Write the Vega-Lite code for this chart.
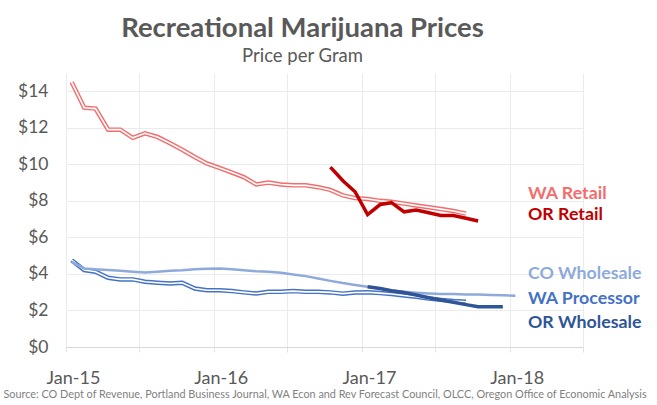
{
  "$schema": "https://vega.github.io/schema/vega-lite/v6.json",
  "width": 517,
  "height": 274,
  "autosize": "none",
  "padding": {"left": 66, "top": 73, "right": 74, "bottom": 58},
  "background": "white",
  "config": {"view": {"stroke": null}, "font": "Lato"},
  "title": {
    "text": "Recreational Marijuana Prices",
    "subtitle": "Price per Gram",
    "anchor": "middle",
    "frame": "group",
    "dx": -22,
    "font": "Lato",
    "fontSize": 27.5,
    "fontWeight": "bold",
    "color": "#595959",
    "subtitleFont": "Lato",
    "subtitleFontSize": 18.5,
    "subtitleColor": "#595959",
    "subtitlePadding": 4,
    "offset": 8
  },
  "data": {
    "values": [
      {"series": "WA Retail", "date": "2015-01-15T00:00:00", "price": 14.5},
      {"series": "WA Retail", "date": "2015-02-15T00:00:00", "price": 13.1},
      {"series": "WA Retail", "date": "2015-03-15T00:00:00", "price": 13.05},
      {"series": "WA Retail", "date": "2015-04-15T00:00:00", "price": 11.9},
      {"series": "WA Retail", "date": "2015-05-15T00:00:00", "price": 11.9},
      {"series": "WA Retail", "date": "2015-06-15T00:00:00", "price": 11.45},
      {"series": "WA Retail", "date": "2015-07-15T00:00:00", "price": 11.7},
      {"series": "WA Retail", "date": "2015-08-15T00:00:00", "price": 11.5},
      {"series": "WA Retail", "date": "2015-09-15T00:00:00", "price": 11.15},
      {"series": "WA Retail", "date": "2015-10-15T00:00:00", "price": 10.8},
      {"series": "WA Retail", "date": "2015-11-15T00:00:00", "price": 10.4},
      {"series": "WA Retail", "date": "2015-12-15T00:00:00", "price": 10.05},
      {"series": "WA Retail", "date": "2016-01-15T00:00:00", "price": 9.8},
      {"series": "WA Retail", "date": "2016-02-15T00:00:00", "price": 9.55},
      {"series": "WA Retail", "date": "2016-03-15T00:00:00", "price": 9.3},
      {"series": "WA Retail", "date": "2016-04-15T00:00:00", "price": 8.9},
      {"series": "WA Retail", "date": "2016-05-15T00:00:00", "price": 9.0},
      {"series": "WA Retail", "date": "2016-06-15T00:00:00", "price": 8.9},
      {"series": "WA Retail", "date": "2016-07-15T00:00:00", "price": 8.85},
      {"series": "WA Retail", "date": "2016-08-15T00:00:00", "price": 8.85},
      {"series": "WA Retail", "date": "2016-09-15T00:00:00", "price": 8.75},
      {"series": "WA Retail", "date": "2016-10-15T00:00:00", "price": 8.6},
      {"series": "WA Retail", "date": "2016-11-15T00:00:00", "price": 8.3},
      {"series": "WA Retail", "date": "2016-12-15T00:00:00", "price": 8.15},
      {"series": "WA Retail", "date": "2017-01-15T00:00:00", "price": 8.1},
      {"series": "WA Retail", "date": "2017-02-15T00:00:00", "price": 8.0},
      {"series": "WA Retail", "date": "2017-03-15T00:00:00", "price": 7.95},
      {"series": "WA Retail", "date": "2017-04-15T00:00:00", "price": 7.85},
      {"series": "WA Retail", "date": "2017-05-15T00:00:00", "price": 7.75},
      {"series": "WA Retail", "date": "2017-06-15T00:00:00", "price": 7.65},
      {"series": "WA Retail", "date": "2017-07-15T00:00:00", "price": 7.55},
      {"series": "WA Retail", "date": "2017-08-15T00:00:00", "price": 7.45},
      {"series": "WA Retail", "date": "2017-09-15T00:00:00", "price": 7.3},

      {"series": "OR Retail", "date": "2016-10-15T00:00:00", "price": 9.85},
      {"series": "OR Retail", "date": "2016-11-15T00:00:00", "price": 9.1},
      {"series": "OR Retail", "date": "2016-12-15T00:00:00", "price": 8.5},
      {"series": "OR Retail", "date": "2017-01-15T00:00:00", "price": 7.25},
      {"series": "OR Retail", "date": "2017-02-15T00:00:00", "price": 7.8},
      {"series": "OR Retail", "date": "2017-03-15T00:00:00", "price": 7.9},
      {"series": "OR Retail", "date": "2017-04-15T00:00:00", "price": 7.4},
      {"series": "OR Retail", "date": "2017-05-15T00:00:00", "price": 7.5},
      {"series": "OR Retail", "date": "2017-06-15T00:00:00", "price": 7.35},
      {"series": "OR Retail", "date": "2017-07-15T00:00:00", "price": 7.2},
      {"series": "OR Retail", "date": "2017-08-15T00:00:00", "price": 7.2},
      {"series": "OR Retail", "date": "2017-09-15T00:00:00", "price": 7.05},
      {"series": "OR Retail", "date": "2017-10-15T00:00:00", "price": 6.9},

      {"series": "CO Wholesale", "date": "2015-01-15T00:00:00", "price": 4.66},
      {"series": "CO Wholesale", "date": "2015-02-15T00:00:00", "price": 4.3},
      {"series": "CO Wholesale", "date": "2015-03-15T00:00:00", "price": 4.25},
      {"series": "CO Wholesale", "date": "2015-04-15T00:00:00", "price": 4.21},
      {"series": "CO Wholesale", "date": "2015-05-15T00:00:00", "price": 4.17},
      {"series": "CO Wholesale", "date": "2015-06-15T00:00:00", "price": 4.12},
      {"series": "CO Wholesale", "date": "2015-07-15T00:00:00", "price": 4.08},
      {"series": "CO Wholesale", "date": "2015-08-15T00:00:00", "price": 4.12},
      {"series": "CO Wholesale", "date": "2015-09-15T00:00:00", "price": 4.17},
      {"series": "CO Wholesale", "date": "2015-10-15T00:00:00", "price": 4.2},
      {"series": "CO Wholesale", "date": "2015-11-15T00:00:00", "price": 4.25},
      {"series": "CO Wholesale", "date": "2015-12-15T00:00:00", "price": 4.28},
      {"series": "CO Wholesale", "date": "2016-01-15T00:00:00", "price": 4.3},
      {"series": "CO Wholesale", "date": "2016-02-15T00:00:00", "price": 4.26},
      {"series": "CO Wholesale", "date": "2016-03-15T00:00:00", "price": 4.2},
      {"series": "CO Wholesale", "date": "2016-04-15T00:00:00", "price": 4.15},
      {"series": "CO Wholesale", "date": "2016-05-15T00:00:00", "price": 4.12},
      {"series": "CO Wholesale", "date": "2016-06-15T00:00:00", "price": 4.06},
      {"series": "CO Wholesale", "date": "2016-07-15T00:00:00", "price": 3.97},
      {"series": "CO Wholesale", "date": "2016-08-15T00:00:00", "price": 3.88},
      {"series": "CO Wholesale", "date": "2016-09-15T00:00:00", "price": 3.75},
      {"series": "CO Wholesale", "date": "2016-10-15T00:00:00", "price": 3.62},
      {"series": "CO Wholesale", "date": "2016-11-15T00:00:00", "price": 3.5},
      {"series": "CO Wholesale", "date": "2016-12-15T00:00:00", "price": 3.4},
      {"series": "CO Wholesale", "date": "2017-01-15T00:00:00", "price": 3.3},
      {"series": "CO Wholesale", "date": "2017-02-15T00:00:00", "price": 3.2},
      {"series": "CO Wholesale", "date": "2017-03-15T00:00:00", "price": 3.1},
      {"series": "CO Wholesale", "date": "2017-04-15T00:00:00", "price": 3.02},
      {"series": "CO Wholesale", "date": "2017-05-15T00:00:00", "price": 2.97},
      {"series": "CO Wholesale", "date": "2017-06-15T00:00:00", "price": 2.93},
      {"series": "CO Wholesale", "date": "2017-07-15T00:00:00", "price": 2.9},
      {"series": "CO Wholesale", "date": "2017-08-15T00:00:00", "price": 2.9},
      {"series": "CO Wholesale", "date": "2017-09-15T00:00:00", "price": 2.88},
      {"series": "CO Wholesale", "date": "2017-10-15T00:00:00", "price": 2.87},
      {"series": "CO Wholesale", "date": "2017-11-15T00:00:00", "price": 2.85},
      {"series": "CO Wholesale", "date": "2017-12-15T00:00:00", "price": 2.83},
      {"series": "CO Wholesale", "date": "2018-01-15T00:00:00", "price": 2.81},

      {"series": "WA Processor", "date": "2015-01-15T00:00:00", "price": 4.75},
      {"series": "WA Processor", "date": "2015-02-15T00:00:00", "price": 4.21},
      {"series": "WA Processor", "date": "2015-03-15T00:00:00", "price": 4.12},
      {"series": "WA Processor", "date": "2015-04-15T00:00:00", "price": 3.79},
      {"series": "WA Processor", "date": "2015-05-15T00:00:00", "price": 3.7},
      {"series": "WA Processor", "date": "2015-06-15T00:00:00", "price": 3.7},
      {"series": "WA Processor", "date": "2015-07-15T00:00:00", "price": 3.57},
      {"series": "WA Processor", "date": "2015-08-15T00:00:00", "price": 3.52},
      {"series": "WA Processor", "date": "2015-09-15T00:00:00", "price": 3.48},
      {"series": "WA Processor", "date": "2015-10-15T00:00:00", "price": 3.52},
      {"series": "WA Processor", "date": "2015-11-15T00:00:00", "price": 3.2},
      {"series": "WA Processor", "date": "2015-12-15T00:00:00", "price": 3.11},
      {"series": "WA Processor", "date": "2016-01-15T00:00:00", "price": 3.11},
      {"series": "WA Processor", "date": "2016-02-15T00:00:00", "price": 3.06},
      {"series": "WA Processor", "date": "2016-03-15T00:00:00", "price": 2.99},
      {"series": "WA Processor", "date": "2016-04-15T00:00:00", "price": 2.93},
      {"series": "WA Processor", "date": "2016-05-15T00:00:00", "price": 3.02},
      {"series": "WA Processor", "date": "2016-06-15T00:00:00", "price": 3.02},
      {"series": "WA Processor", "date": "2016-07-15T00:00:00", "price": 3.06},
      {"series": "WA Processor", "date": "2016-08-15T00:00:00", "price": 3.02},
      {"series": "WA Processor", "date": "2016-09-15T00:00:00", "price": 3.02},
      {"series": "WA Processor", "date": "2016-10-15T00:00:00", "price": 2.99},
      {"series": "WA Processor", "date": "2016-11-15T00:00:00", "price": 2.92},
      {"series": "WA Processor", "date": "2016-12-15T00:00:00", "price": 2.98},
      {"series": "WA Processor", "date": "2017-01-15T00:00:00", "price": 3.0},
      {"series": "WA Processor", "date": "2017-02-15T00:00:00", "price": 2.95},
      {"series": "WA Processor", "date": "2017-03-15T00:00:00", "price": 2.9},
      {"series": "WA Processor", "date": "2017-04-15T00:00:00", "price": 2.82},
      {"series": "WA Processor", "date": "2017-05-15T00:00:00", "price": 2.75},
      {"series": "WA Processor", "date": "2017-06-15T00:00:00", "price": 2.65},
      {"series": "WA Processor", "date": "2017-07-15T00:00:00", "price": 2.58},
      {"series": "WA Processor", "date": "2017-08-15T00:00:00", "price": 2.52},
      {"series": "WA Processor", "date": "2017-09-15T00:00:00", "price": 2.48},

      {"series": "OR Wholesale", "date": "2017-01-15T00:00:00", "price": 3.3},
      {"series": "OR Wholesale", "date": "2017-02-15T00:00:00", "price": 3.2},
      {"series": "OR Wholesale", "date": "2017-03-15T00:00:00", "price": 3.08},
      {"series": "OR Wholesale", "date": "2017-04-15T00:00:00", "price": 2.98},
      {"series": "OR Wholesale", "date": "2017-05-15T00:00:00", "price": 2.85},
      {"series": "OR Wholesale", "date": "2017-06-15T00:00:00", "price": 2.7},
      {"series": "OR Wholesale", "date": "2017-07-15T00:00:00", "price": 2.57},
      {"series": "OR Wholesale", "date": "2017-08-15T00:00:00", "price": 2.45},
      {"series": "OR Wholesale", "date": "2017-09-15T00:00:00", "price": 2.32},
      {"series": "OR Wholesale", "date": "2017-10-15T00:00:00", "price": 2.2},
      {"series": "OR Wholesale", "date": "2017-11-15T00:00:00", "price": 2.2},
      {"series": "OR Wholesale", "date": "2017-12-15T00:00:00", "price": 2.2}
    ]
  },
  "encoding": {
    "x": {
      "field": "date",
      "type": "temporal",
      "scale": {"domain": [{"year": 2015, "month": 1, "date": 1}, {"year": 2018, "month": 7, "date": 1}]},
      "axis": {
        "values": [
          {"year": 2015, "month": 1, "date": 1},
          {"year": 2015, "month": 7, "date": 1},
          {"year": 2016, "month": 1, "date": 1},
          {"year": 2016, "month": 7, "date": 1},
          {"year": 2017, "month": 1, "date": 1},
          {"year": 2017, "month": 7, "date": 1},
          {"year": 2018, "month": 1, "date": 1},
          {"year": 2018, "month": 7, "date": 1}
        ],
        "labelExpr": "month(datum.value) == 0 ? timeFormat(datum.value, '%b-%y') : ''",
        "title": "Source: CO Dept of Revenue, Portland Business Journal, WA Econ and Rev Forecast Council, OLCC, Oregon Office of Economic Analysis",
        "titleFont": "Lato",
        "titleFontSize": 10.85,
        "titleFontWeight": "normal",
        "titleColor": "#7f7f7f",
        "titlePadding": 1,
        "labelFont": "Lato",
        "labelFontSize": 18,
        "labelColor": "#595959",
        "labelPadding": 17,
        "labelOffset": 7,
        "labelFlush": false,
        "labelOverlap": false,
        "tickSize": 5,
        "tickColor": "#e3e3e3",
        "domainColor": "#d9d9d9",
        "gridColor": "#ebebeb",
        "grid": true
      }
    },
    "y": {
      "field": "price",
      "type": "quantitative",
      "scale": {"domain": [0, 15]},
      "axis": {
        "values": [0, 2, 4, 6, 8, 10, 12, 14],
        "format": "$.0f",
        "title": null,
        "domain": false,
        "ticks": false,
        "labelPadding": 18,
        "labelFont": "Lato",
        "labelFontSize": 17.5,
        "labelColor": "#595959",
        "gridColor": "#ebebeb"
      }
    },
    "color": {
      "field": "series",
      "type": "nominal",
      "scale": {
        "domain": ["WA Retail", "OR Retail", "CO Wholesale", "WA Processor", "OR Wholesale"],
        "range": ["#f26d6d", "#c00000", "#8eaadb", "#4472c4", "#2f5597"]
      },
      "legend": null
    }
  },
  "layer": [
    {
      "transform": [{"filter": "datum.series == 'WA Retail' || datum.series == 'WA Processor'"}],
      "mark": {"type": "line", "strokeWidth": 4.5},
      "encoding": {}
    },
    {
      "transform": [{"filter": "datum.series == 'WA Retail' || datum.series == 'WA Processor'"}],
      "mark": {"type": "line", "strokeWidth": 1.6},
      "encoding": {"color": {"value": "white"}, "detail": {"field": "series", "type": "nominal"}}
    },
    {
      "transform": [{"filter": "datum.series == 'CO Wholesale'"}],
      "mark": {"type": "line", "strokeWidth": 2.5},
      "encoding": {}
    },
    {
      "transform": [{"filter": "datum.series == 'OR Retail' || datum.series == 'OR Wholesale'"}],
      "mark": {"type": "line", "strokeWidth": 3.5},
      "encoding": {}
    },
    {
      "data": {
        "values": [
          {"series": "WA Retail", "date": "2018-02-15T00:00:00", "price": 8.4},
          {"series": "OR Retail", "date": "2018-02-15T00:00:00", "price": 7.2},
          {"series": "CO Wholesale", "date": "2018-02-15T00:00:00", "price": 4.0},
          {"series": "WA Processor", "date": "2018-02-15T00:00:00", "price": 2.65},
          {"series": "OR Wholesale", "date": "2018-02-15T00:00:00", "price": 1.33}
        ]
      },
      "mark": {"type": "text", "align": "left", "baseline": "middle", "fontSize": 17.8, "fontWeight": "bold", "font": "Lato"},
      "encoding": {
        "text": {"field": "series", "type": "nominal"}
      }
    }
  ]
}
